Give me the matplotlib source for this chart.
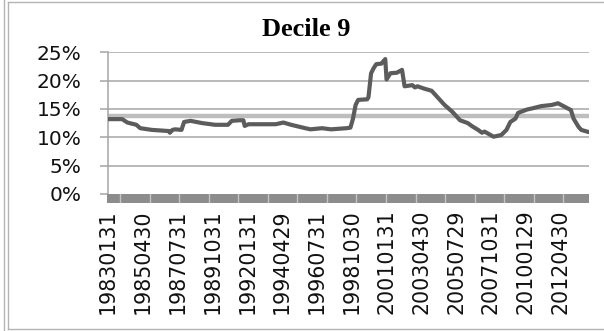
import matplotlib
matplotlib.use("Agg")
import matplotlib.pyplot as plt
import numpy as np
from matplotlib.lines import Line2D

# ---- data ----
title = "Decile 9"
start_year, start_month = 1983, 1
n_months = 374  # 1983-01 .. 2014-02

# readings: month (YYYYMM) and value (%)
read_months = [
    "198301", "198312", "198404", "198411", "198502", "198511", "198612", "198701",
    "198703", "198705", "198710", "198712", "198805", "198902", "198912", "199010",
    "199101", "199107", "199110", "199111", "199202", "199311", "199405", "199411",
    "199510", "199602", "199611", "199706", "199806", "199809", "199811", "199901",
    "199903", "199910", "199911", "200001", "200003", "200005", "200009", "200012",
    "200101", "200104", "200109", "200201", "200203", "200209", "200211", "200301",
    "200306", "200312", "200404", "200410", "200504", "200510", "200604", "200607",
    "200612", "200703", "200705", "200712", "200806", "200810", "200901", "200905",
    "200907", "201002", "201006", "201101", "201109", "201202", "201207", "201212",
    "201302", "201306", "201308", "201402",
]
read_values = [
    13.2, 13.2, 12.6, 12.2, 11.6, 11.3, 11.1, 10.8,
    11.3, 11.4, 11.3, 12.7, 12.9, 12.5, 12.2, 12.2,
    12.9, 13.0, 13.0, 12.0, 12.3, 12.3, 12.6, 12.2,
    11.6, 11.4, 11.6, 11.4, 11.6, 11.7, 13.3, 15.7,
    16.6, 16.7, 17.1, 21.3, 22.2, 22.9, 23.0, 23.8,
    20.2, 21.3, 21.4, 21.9, 19.0, 19.2, 18.8, 19.0,
    18.6, 18.2, 17.2, 15.7, 14.5, 13.0, 12.5, 12.0,
    11.3, 10.8, 11.0, 10.1, 10.4, 11.3, 12.7, 13.3,
    14.3, 14.9, 15.1, 15.5, 15.7, 16.0, 15.4, 14.8,
    13.3, 11.8, 11.3, 10.9,
]
mean_value = 13.75  # %

tick_labels = ["19830131", "19850430", "19870731", "19891031", "19920131",
               "19940429", "19960731", "19981030", "20010131", "20030430",
               "20050729", "20071031", "20100129", "20120430"]
label_every = 27

yticks = [0, 5, 10, 15, 20, 25]
ytick_labels = ["0%", "5%", "10%", "15%", "20%", "25%"]


def month_index(s):
    y, m = int(s[:4]), int(s[4:])
    return (y - start_year) * 12 + (m - start_month)


xs = np.array([month_index(s) for s in read_months])
ys = np.array(read_values)

# ---- figure ----
W, H = 604, 331
fig = plt.figure(figsize=(W / 100, H / 100), dpi=100)
fig.patch.set_facecolor("white")

# outer frame lines (pixel coordinates)
def fig_line(x0, y0, x1, y1, color="#b4b4b4", lw=1.0):
    fig.add_artist(Line2D([x0 / W, x1 / W], [1 - y0 / H, 1 - y1 / H],
                          transform=fig.transFigure, color=color, lw=lw))

fig_line(4, 0, 4, H)
fig_line(8, 2, 8, 329)
fig_line(8, 2, W, 2)
fig_line(8, 329, W, 329)

left_px, right_px, top_px, bottom_px = 108, 589, 52.3, 193.9
ax = fig.add_axes([left_px / W, 1 - bottom_px / H,
                   (right_px - left_px) / W, (bottom_px - top_px) / H])
ax.set_xlim(0, n_months - 1)
ax.set_ylim(0, 25)

grid_c = "#a6a6a6"
for v in yticks[1:]:
    ax.axhline(v, color=grid_c, lw=1.1, zorder=1)

ax.axhline(mean_value, color="#bebebe", lw=3.2, zorder=2)
ax.plot(xs, ys, color="#5c5c5c", lw=3.0, solid_joinstyle="round",
        solid_capstyle="round", zorder=3)

for s in ["top", "right", "bottom"]:
    ax.spines[s].set_visible(False)
ax.spines["left"].set_color(grid_c)
ax.spines["left"].set_linewidth(1.1)

ax.set_yticks(yticks)
ax.set_yticklabels(ytick_labels, fontsize=14.5, family="DejaVu Sans", color="#111111")
ax.tick_params(axis="y", length=6, width=1.1, color=grid_c, pad=13)

label_pos = [i * label_every for i in range(len(tick_labels))]
ax.set_xticks(label_pos)
ax.set_xticklabels(tick_labels, rotation=90, fontsize=14.8, family="DejaVu Sans",
                   color="#111111", va="top", ha="center")
ax.tick_params(axis="x", length=0, pad=11)

# thick band along the category axis
band_h = 9
band = fig.add_axes([(left_px - 1) / W, 1 - (bottom_px + band_h) / H,
                     (right_px - left_px + 1) / W, band_h / H])
band.set_facecolor("#8c8c8c")
band.set_xlim(0, n_months - 1)
band.set_ylim(0, 1)
band.set_xticks([])
band.set_yticks([])
for s in band.spines.values():
    s.set_visible(False)
for t in np.linspace(10.1, 353.1, 16):
    band.axvline(t, color="#c4c4c4", lw=1.0)

fig.text(306 / W, 1 - 29 / H, title, ha="center", va="center",
         fontsize=19, fontweight="bold", family="Liberation Serif")

fig.savefig("out.png", dpi=100)
